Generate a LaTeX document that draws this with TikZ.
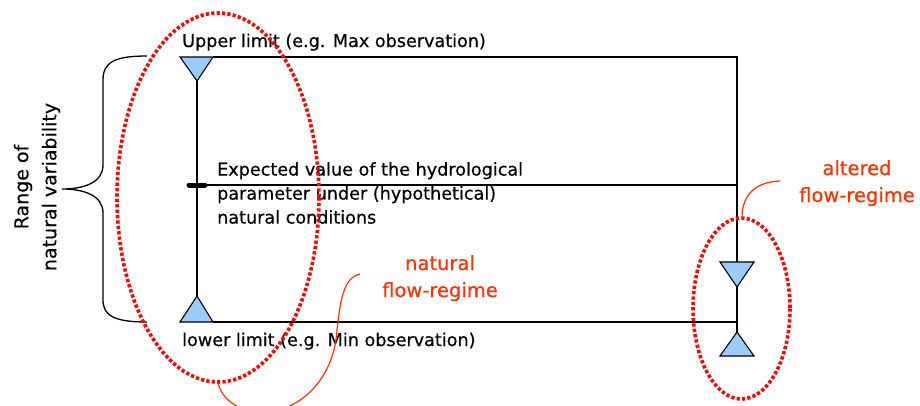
\documentclass[tikz,border=0pt]{standalone}
\usepackage{fontspec}
\setmainfont{DejaVu Sans}
\newfontfamily\txtfont[FakeBold=0.4]{DejaVu Sans}
\definecolor{triblue}{HTML}{99CCFF}
\definecolor{ored}{HTML}{FF3300}
\definecolor{dotred}{HTML}{FF0000}
\begin{document}
\begin{tikzpicture}[x=1pt,y=-1pt,
  mainline/.style={draw=black,line width=1.6pt},
  tri/.style={draw=black,fill=triblue,line width=1.1pt,line join=miter},
  dotell/.style={draw=dotred,line width=3.6pt,dash pattern=on 3.2pt off 2.2pt},
  leader/.style={draw=ored,line width=1.2pt},
  blacktext/.style={inner sep=0pt,font=\txtfont\fontsize{17.6}{24}\selectfont},
  redtext/.style={inner sep=0pt,text=ored,align=center,font=\txtfont\fontsize{19.5}{27}\selectfont}]
\useasboundingbox (0,0) rectangle (920,405);
\fill[white] (0,0) rectangle (920,405);
% coordinates
\coordinate (ut) at (197,81);
\coordinate (lt) at (197,296);
\coordinate (ul) at (213,57);
\coordinate (ur) at (737,57);
\coordinate (ml) at (197,185);
\coordinate (mr) at (737,185);
\coordinate (ll) at (213,322);
\coordinate (lr) at (737,322);
\coordinate (dt) at (737,262);
\coordinate (db) at (737,287);
\coordinate (ut2) at (737,332);
% lines
\draw[mainline] (ul) -- (ur) -- (dt);
\draw[mainline] (db) -- (ut2);
\draw[mainline] (ml) -- (mr);
\draw[mainline] (ll) -- (lr);
\draw[mainline] (ut) -- (lt);
\draw[line width=5pt,line cap=round] (189,185) -- (205,185);
% triangles
\draw[tri] (180,57) -- (213,57) -- (ut) -- cycle;
\draw[tri] (180,322) -- (213,322) -- (lt) -- cycle;
\draw[tri] (720,262) -- (754,262) -- (db) -- cycle;
\draw[tri] (720,356) -- (754,356) -- (ut2) -- cycle;
% brace
\draw[line width=1.3pt] (147,56) .. controls (115,56) and (103,62) .. (103,80) -- (103,165)
  .. controls (103,182) and (85,189) .. (62,189)
  .. controls (85,189) and (103,196) .. (103,213) -- (103,300)
  .. controls (103,316) and (115,322) .. (147,322);
% texts
\node[blacktext,anchor=base west] (upper) at (182,47) {Upper limit (e.g. Max observation)};
\node[blacktext,anchor=base west] (lower) at (182,346) {lower limit (e.g. Min observation)};
\node[blacktext,anchor=north west,align=left] (expected) at (217,162) {Expected value of the hydrological\\parameter under (hypothetical)\\natural conditions};
\node[inner sep=0pt,rotate=90,align=center,font=\txtfont\fontsize{19}{28}\selectfont] (range) at (37,187) {Range of\\natural variability};
\node[redtext,anchor=north] (nat) at (440,255) {natural\\flow-regime};
\node[redtext,anchor=north] (alt) at (857,160) {altered\\flow-regime};
% ellipses
\draw[dotell] (218,197.5) ellipse [x radius=101, y radius=184.5];
\draw[dotell] (741.5,308.5) ellipse [x radius=48.5, y radius=90.5];
% leaders
\begin{scope}
\clip (0,0) rectangle (920,405);
\draw[leader] (218,383) .. controls (222,400) and (240,412) .. (262,412)
  .. controls (300,412) and (330,380) .. (336,340)
  .. controls (340,300) and (343,278) .. (360,274);
\end{scope}
\draw[leader] (742,218) .. controls (742,195) and (755,182) .. (780,181);
\end{tikzpicture}
\end{document}
